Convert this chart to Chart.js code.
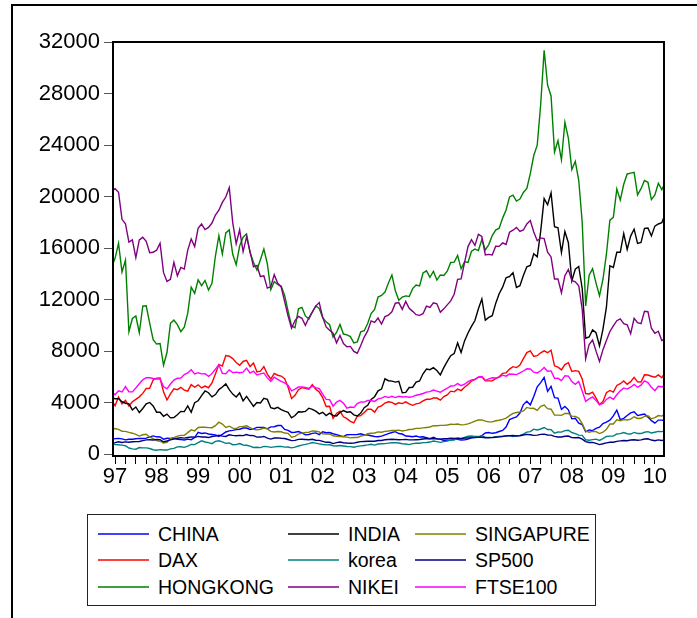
<!DOCTYPE html>
<html>
<head>
<meta charset="utf-8">
<script src="https://cdn.jsdelivr.net/npm/chart.js@4.4.1/dist/chart.umd.min.js"></script>
<style>
  body { margin: 0; background: #fff; font-family: "Liberation Sans", Arial, sans-serif; }
  #wrap { position: relative; width: 697px; height: 618px; overflow: hidden; }
  #frame { position: absolute; left: 11px; top: 4px; width: 700px; height: 700px; border-left: 2px solid #000; border-top: 2px solid #000; }
  #chart { position: absolute; left: 0; top: 0; }
  #legend { position: absolute; left: 87px; top: 514px; width: 507px; height: 90px; border: 1.5px solid #222; }
  .item { position: absolute; height: 24px; font-size: 19.5px; line-height: 24px; color: #000; white-space: nowrap; }
  .item span.ln { position: absolute; left: 0; top: 11px; width: 51px; height: 2px; opacity: 0.75; }
  .item span.tx { position: absolute; left: 60px; top: 0; }
</style>
</head>
<body>
<div id="wrap">
  <div id="frame"></div>
  <canvas id="chart" width="697" height="500"></canvas>
  <div id="legend"></div>
</div>
<script>
// first point is early June 1997, then month-end values Jun 1997 .. Aug 2010, last point mid Sep 2010
const startX = 1997.45;
const endX = 2010.72;
const yearLabels = ["97", "98", "99", "00", "01", "02", "03", "04", "05", "06", "07", "08", "09", "10"];
const yTicks = [0, 4000, 8000, 12000, 16000, 20000, 24000, 28000, 32000];

const seriesNames = ["CHINA", "DAX", "HONGKONG", "INDIA", "korea", "NIKEI", "SINGAPURE", "SP500", "FTSE100"];
const seriesColors = ["#0000ff", "#ff0000", "#008000", "#000000", "#008080", "#800080", "#808000", "#000080", "#ff00ff"];

const china = [1160,
  1200, 1220, 1180, 1100, 1150, 1150, 1194,
  1220, 1210, 1240, 1340, 1410, 1340, 1330, 1160, 1230, 1220, 1250, 1147,
  1130, 1090, 1160, 1120, 1280, 1690, 1600, 1640, 1560, 1520, 1480, 1367,
  1530, 1715, 1800, 1836, 1894, 1929, 2023, 2021, 1910, 1961, 2070, 2073,
  2065, 1960, 2112, 2120, 2214, 2218, 1920, 1834, 1677, 1690, 1748, 1646,
  1491, 1524, 1603, 1646, 1515, 1733, 1654, 1669, 1581, 1507, 1421, 1357,
  1500, 1511, 1511, 1521, 1576, 1487, 1477, 1421, 1367, 1349, 1397, 1497,
  1590, 1675, 1742, 1595, 1555, 1399, 1386, 1342, 1396, 1320, 1340, 1267,
  1191, 1306, 1181, 1159, 1060, 1080, 1083, 1162, 1155, 1092, 1099, 1161,
  1258, 1299, 1299, 1440, 1641, 1672, 1612, 1658, 1753, 1838, 2099, 2675,
  2786, 2881, 3183, 3841, 4109, 3821, 4471, 5218, 5552, 5954, 4871, 5262,
  4383, 4348, 3473, 3693, 3433, 2736, 2775, 2397, 2293, 1729, 1871, 1821,
  1991, 2082, 2373, 2477, 2633, 2959, 3412, 2667, 2779, 2996, 3195, 3277,
  2989, 3051, 3110, 2870, 2592, 2398, 2638, 2638,
  2600];

const dax = [4000,
  3760, 4438, 3903, 4168, 3727, 4063, 4250,
  4442, 4710, 5097, 5107, 5754, 5897, 5903, 4834, 4200, 4671, 5067, 5002,
  5184, 4970, 4884, 5393, 5190, 5378, 5132, 5283, 5150, 5525, 6220, 6958,
  6835, 7644, 7599, 7415, 7109, 6898, 7191, 7279, 6798, 7078, 6372, 6434,
  6795, 6208, 5830, 6265, 6123, 6058, 5862, 5188, 4308, 4560, 5000, 5160,
  5107, 5039, 5397, 5041, 4818, 4383, 3701, 3712, 2769, 3153, 3321, 2893,
  2748, 2547, 2424, 2942, 2982, 3221, 3487, 3485, 3257, 3656, 3746, 3965,
  4058, 4018, 3856, 3985, 3921, 4053, 3895, 3785, 3893, 3960, 4126, 4256,
  4254, 4350, 4349, 4185, 4461, 4587, 4886, 4830, 5044, 4929, 5193, 5408,
  5674, 5796, 5970, 6009, 5692, 5683, 5682, 5860, 6005, 6269, 6309, 6597,
  6789, 6716, 6917, 7409, 7884, 8007, 7584, 7638, 7862, 8020, 7871, 8067,
  6852, 6748, 6535, 6949, 7097, 6418, 6480, 6422, 5831, 4700, 4669, 4810,
  4338, 3843, 4085, 4770, 4941, 4809, 5332, 5465, 5675, 5415, 5625, 5957,
  5608, 5598, 6154, 6136, 6046, 5966, 6148, 5925,
  6200];

const hongkong = [14800,
  15197, 16366, 14136, 15050, 9500, 10527, 10723,
  9420, 11480, 11518, 10175, 8891, 8543, 8590, 6900, 7883, 10155, 10402, 10049,
  9507, 9850, 10942, 12954, 12480, 13532, 13073, 13483, 12733, 13256, 15379, 16962,
  15533, 17170, 17407, 15519, 14713, 16155, 16841, 17097, 15648, 14895, 14290, 15096,
  15925, 14781, 12761, 13387, 13174, 13043, 12316, 11092, 9951, 9813, 11279, 11397,
  10725, 10482, 11033, 11497, 11301, 10598, 10268, 10044, 9072, 9441, 10069, 9321,
  9258, 9123, 8634, 8717, 9487, 9577, 10134, 10908, 11230, 12190, 12317, 12576,
  13289, 13908, 12681, 11942, 12198, 12286, 12239, 12850, 13120, 13054, 14060, 14230,
  13721, 14195, 13516, 13908, 13868, 14201, 14880, 14903, 15429, 14386, 14937, 14876,
  15753, 15918, 15805, 16661, 15857, 16267, 16971, 17392, 17543, 18324, 18960, 19965,
  20107, 19652, 19801, 20318, 20635, 21773, 23185, 23984, 27143, 31352, 28643, 27813,
  23456, 24332, 22849, 25755, 24533, 22102, 22731, 21262, 18016, 11500, 13888, 14387,
  13278, 12300, 13576, 15521, 18171, 18379, 20573, 19724, 20955, 21753, 21822, 21873,
  20122, 20609, 21239, 21108, 19765, 20129, 21030, 20536,
  20900];

const india = [4350,
  4300, 4306, 4069, 3950, 3902, 3426, 3659,
  3224, 3543, 3893, 4007, 3742, 3251, 3253, 2933, 3102, 2812, 2836, 3055,
  3316, 3299, 3740, 3246, 3992, 4140, 4540, 4899, 4764, 4444, 4622, 5005,
  5206, 5447, 5001, 4658, 4434, 4748, 4134, 4477, 4090, 3711, 3998, 3972,
  4326, 4247, 3604, 3519, 3631, 3457, 3329, 3245, 2811, 2989, 3287, 3262,
  3311, 3562, 3469, 3338, 3126, 3245, 2988, 3181, 2991, 2949, 3229, 3377,
  3250, 3283, 3049, 2960, 3180, 3607, 3792, 4244, 4453, 4906, 5044, 5839,
  5696, 5667, 5591, 5655, 4760, 4795, 5170, 5192, 5584, 5672, 6234, 6603,
  6556, 6714, 6493, 6154, 6715, 7194, 7635, 7805, 8634, 7892, 8789, 9398,
  9920, 10370, 11280, 12043, 10399, 10609, 10744, 11699, 12454, 12962, 13696, 13787,
  14091, 12938, 13072, 13872, 14544, 14651, 15551, 15319, 17291, 19838, 19363, 20287,
  17649, 17579, 15644, 17287, 16416, 13462, 14356, 14565, 12860, 9000, 9093, 9647,
  9424, 8400, 9709, 11403, 14625, 14494, 15670, 15667, 17127, 15896, 16926, 17465,
  16358, 16430, 17528, 17559, 16945, 17701, 17868, 17971,
  18400];

const korea = [780,
  745, 727, 695, 647, 471, 407, 376,
  506, 482, 482, 433, 333, 298, 345, 311, 311, 405, 444, 562,
  571, 518, 618, 752, 731, 883, 1027, 937, 893, 807, 982, 1028,
  943, 828, 860, 725, 731, 821, 705, 688, 613, 514, 527, 504,
  599, 576, 524, 557, 592, 596, 541, 545, 479, 537, 628, 693,
  748, 816, 893, 848, 796, 742, 713, 723, 646, 628, 670, 628,
  591, 575, 535, 599, 633, 670, 711, 759, 697, 781, 796, 810,
  848, 880, 883, 862, 803, 785, 735, 810, 835, 845, 890, 895,
  932, 1011, 965, 911, 970, 1008, 1111, 1083, 1221, 1158, 1297, 1379,
  1399, 1371, 1359, 1419, 1317, 1295, 1297, 1352, 1371, 1364, 1432, 1434,
  1360, 1417, 1452, 1542, 1700, 1743, 1933, 1873, 1946, 2064, 1906, 1897,
  1624, 1711, 1704, 1825, 1852, 1674, 1594, 1474, 1448, 1113, 1076, 1124,
  1162, 1063, 1206, 1369, 1396, 1390, 1557, 1591, 1673, 1580, 1555, 1682,
  1602, 1594, 1692, 1741, 1641, 1698, 1759, 1742,
  1780];

const nikei = [20500,
  20605, 20331, 18229, 17888, 16458, 16636, 15259,
  16628, 16832, 16527, 15641, 15671, 15830, 16379, 14108, 13406, 13565, 14883, 13842,
  14499, 14368, 15837, 16702, 16112, 17530, 17862, 17437, 17605, 17942, 18558, 18934,
  19540, 19960, 20700, 17974, 16332, 17411, 15727, 16861, 15747, 14539, 14649, 13785,
  13843, 12884, 12999, 13934, 13262, 12969, 11860, 10713, 9774, 10366, 10697, 10543,
  9998, 10588, 11025, 11493, 11764, 10621, 9877, 9619, 9383, 8640, 9216, 8579,
  8340, 8363, 7973, 7831, 8425, 9083, 9563, 10344, 10219, 10560, 10101, 10677,
  10784, 11042, 11715, 11762, 11237, 11859, 11326, 11082, 10824, 10771, 10899, 11489,
  11388, 11741, 11669, 11009, 11277, 11584, 11900, 12414, 13574, 13607, 14872, 16111,
  16650, 16205, 17060, 16906, 15467, 15505, 15457, 16141, 16128, 16399, 16274, 17226,
  17383, 17604, 17288, 17400, 17876, 18138, 17249, 16569, 16786, 16737, 15681, 15308,
  13592, 13604, 12526, 13850, 14339, 13481, 13377, 13073, 11260, 7400, 8512, 8860,
  7994, 7200, 8110, 8828, 9523, 9958, 10357, 10493, 10133, 10035, 9346, 10546,
  10198, 10126, 11090, 11057, 9769, 9383, 9537, 8824,
  8900];

const singapure = [1950,
  1988, 1916, 1776, 1760, 1680, 1620, 1529,
  1400, 1500, 1541, 1326, 1197, 1050, 997, 856, 914, 1199, 1283, 1392,
  1448, 1461, 1663, 1881, 1802, 2064, 2078, 2080, 2057, 2050, 2209, 2479,
  2326, 2070, 2164, 2018, 1980, 2135, 2150, 2198, 2061, 1920, 1879, 1927,
  2011, 1960, 1766, 1716, 1756, 1732, 1633, 1610, 1306, 1374, 1556, 1624,
  1674, 1698, 1796, 1772, 1724, 1572, 1557, 1570, 1422, 1379, 1367, 1341,
  1313, 1256, 1288, 1283, 1403, 1448, 1575, 1612, 1633, 1720, 1696, 1765,
  1792, 1840, 1836, 1856, 1791, 1838, 1911, 1927, 1997, 1996, 2031, 2066,
  2106, 2209, 2197, 2225, 2226, 2261, 2316, 2303, 2331, 2268, 2289, 2347,
  2446, 2554, 2642, 2652, 2553, 2498, 2501, 2583, 2629, 2691, 2791, 2986,
  3155, 3231, 3267, 3346, 3621, 3548, 3553, 3392, 3707, 3805, 3528, 3482,
  3027, 3027, 3008, 3156, 3146, 2948, 2930, 2793, 2359, 1795, 1697, 1762,
  1746, 1595, 1700, 1921, 2330, 2333, 2659, 2593, 2673, 2651, 2712, 2897,
  2765, 2779, 2933, 2979, 2738, 2836, 2988, 2950,
  3050];

const sp500 = [850,
  885, 954, 899, 947, 915, 955, 970,
  980, 1049, 1102, 1112, 1091, 1134, 1121, 957, 1017, 1099, 1164, 1229,
  1280, 1238, 1286, 1335, 1302, 1373, 1329, 1320, 1283, 1363, 1389, 1469,
  1394, 1366, 1499, 1452, 1421, 1455, 1431, 1518, 1437, 1429, 1315, 1320,
  1366, 1240, 1160, 1249, 1256, 1224, 1211, 1134, 1041, 1060, 1139, 1148,
  1130, 1107, 1147, 1077, 1067, 990, 912, 916, 815, 886, 936, 880,
  856, 841, 848, 917, 964, 975, 990, 1008, 996, 1051, 1058, 1112,
  1131, 1145, 1126, 1107, 1121, 1141, 1102, 1104, 1115, 1130, 1174, 1212,
  1181, 1204, 1181, 1157, 1192, 1191, 1234, 1220, 1229, 1207, 1249, 1248,
  1280, 1281, 1295, 1311, 1270, 1270, 1277, 1304, 1336, 1378, 1401, 1418,
  1438, 1407, 1421, 1482, 1531, 1503, 1455, 1474, 1527, 1549, 1481, 1468,
  1378, 1331, 1323, 1386, 1400, 1280, 1267, 1283, 1165, 969, 896, 903,
  826, 735, 798, 873, 919, 919, 987, 1021, 1057, 1036, 1096, 1115,
  1074, 1104, 1169, 1187, 1089, 1031, 1102, 1049,
  1110];

const ftse100 = [4750,
  4605, 4907, 4818, 5244, 4842, 4831, 5136,
  5458, 5767, 5932, 5928, 5871, 5833, 5837, 5249, 5064, 5438, 5744, 5883,
  5896, 6175, 6296, 6552, 6226, 6318, 6231, 6246, 6030, 6255, 6597, 6930,
  6268, 6233, 6540, 6327, 6359, 6313, 6365, 6672, 6294, 6438, 6142, 6222,
  6298, 5918, 5634, 5967, 5796, 5643, 5529, 5345, 4903, 5040, 5204, 5217,
  5165, 5101, 5272, 5165, 5086, 4656, 4246, 4227, 3722, 4039, 4169, 3940,
  3567, 3656, 3613, 3926, 4048, 4031, 4157, 4161, 4091, 4288, 4343, 4477,
  4390, 4492, 4386, 4489, 4431, 4464, 4413, 4459, 4571, 4624, 4703, 4814,
  4852, 4968, 4894, 4801, 4964, 5113, 5282, 5297, 5478, 5317, 5424, 5619,
  5760, 5792, 5965, 6023, 5724, 5833, 5928, 5906, 5961, 6129, 6049, 6221,
  6203, 6172, 6308, 6450, 6622, 6608, 6360, 6303, 6467, 6722, 6433, 6457,
  5880, 5884, 5702, 6087, 6054, 5626, 5412, 5637, 4902, 4100, 4288, 4434,
  4150, 3830, 3926, 4244, 4418, 4249, 4608, 4909, 5134, 5045, 5191, 5413,
  5189, 5355, 5680, 5553, 5188, 4917, 5258, 5225,
  5250];

const seriesValues = [china, dax, hongkong, india, korea, nikei, singapure, sp500, ftse100];

// time axis in decimal years
const dates = [startX];
for (let i = 0; i < 159; i++) dates.push(1997.5 + i / 12);
dates.push(endX);

const datasets = seriesNames.map((name, i) => ({
    label: name,
    data: seriesValues[i].map((v, k) => ({ x: dates[k], y: v })),
    borderColor: seriesColors[i],
    borderWidth: 1.4,
    pointRadius: 0,
    tension: 0,
    fill: false,
    order: seriesNames.length - 1 - i,
}));

const boxPlugin = {
    id: "box",
    afterDraw(chart) {
        const a = chart.chartArea;
        const ctx = chart.ctx;
        ctx.save();
        ctx.strokeStyle = "#000";
        ctx.lineWidth = 2;
        ctx.strokeRect(a.left, a.top, a.right - a.left, a.bottom - a.top);
        ctx.restore();
    },
};

const tickFont = { family: "'Liberation Sans', Arial, sans-serif", size: 22 };

new Chart(document.getElementById("chart").getContext("2d"), {
    type: "line",
    data: { datasets: datasets },
    options: {
        responsive: false,
        animation: false,
        layout: { padding: { left: 10, top: 42, right: 33, bottom: 4 } },
        plugins: { legend: { display: false }, tooltip: { enabled: false } },
        scales: {
            x: {
                type: "linear",
                min: startX,
                max: endX,
                afterBuildTicks(scale) {
                    const t = [];
                    for (let q = 1997.5; q <= endX; q += 0.25) t.push({ value: q });
                    scale.ticks = t;
                },
                afterFit(scale) { scale.height = 40; },
                ticks: {
                    autoSkip: false,
                    maxRotation: 0,
                    padding: 0,
                    color: "#000",
                    font: tickFont,
                    callback(value) {
                        const f = value - Math.floor(value);
                        if (Math.abs(f - 0.5) > 0.01) return "";
                        return yearLabels[Math.floor(value) - 1997];
                    },
                },
                grid: { display: true, drawOnChartArea: false, drawTicks: true, tickLength: 8, color: "#000", lineWidth: 1 },
                border: { display: true, color: "#000", width: 2 },
            },
            y: {
                min: -150,
                max: 32000,
                afterBuildTicks(scale) {
                    scale.ticks = yTicks.map((v) => ({ value: v }));
                },
                afterFit(scale) { scale.width = 103; },
                ticks: { color: "#000", font: tickFont, padding: 4, callback: (v) => String(v) },
                grid: { display: true, drawOnChartArea: false, drawTicks: true, tickLength: 9, color: "#555", lineWidth: 1 },
                border: { display: true, color: "#000", width: 2 },
            },
        },
    },
    plugins: [boxPlugin],
});

// legend, column by column like the original
const legend = document.getElementById("legend");
const colX = [10, 200, 327];
const rowY = [7, 33, 60];
seriesNames.forEach((name, i) => {
    const c = Math.floor(i / 3);
    const r = i % 3;
    const div = document.createElement("div");
    div.classList.add("item");
    div.style.left = colX[c] + "px";
    div.style.top = rowY[r] + "px";
    div.innerHTML = `<span class="ln" style="background:${seriesColors[i]}"></span><span class="tx">${name}</span>`;
    legend.appendChild(div);
});
</script>
</body>
</html>
